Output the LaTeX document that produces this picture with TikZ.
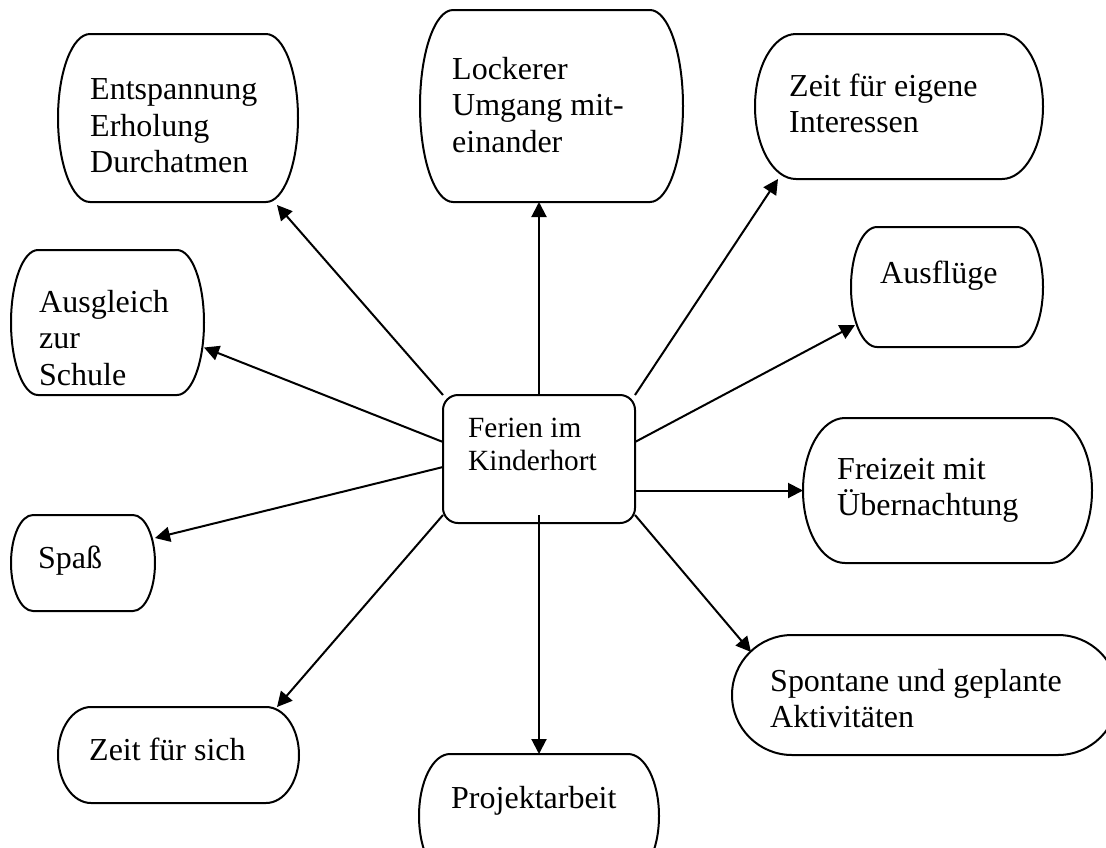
\documentclass[tikz,border=0pt]{standalone}
\usepackage{fontspec}
\setmainfont{Liberation Serif}
\usetikzlibrary{arrows.meta,calc}
\newcommand\lines[1]{\begin{tabular}[t]{@{}l@{}}#1\end{tabular}}
\newcommand\tbox[6]{%
  \pgfmathsetmacro\tbw{#4-#2}\pgfmathsetmacro\tbh{#5-#3}\pgfmathsetmacro\tbry{(#5-#3)/2}%
  \node[bx, minimum width=\tbw pt, minimum height=\tbh pt] (#1) at ({(#2+#4)/2},{(#3+#5)/2}) {};
  \draw[outline] ([xshift=#6pt]#1.north west) -- ([xshift=-#6pt]#1.north east)
     arc[start angle=90,end angle=-90,x radius=#6pt,y radius=\tbry pt]
     -- ([xshift=#6pt]#1.south west)
     arc[start angle=270,end angle=90,x radius=#6pt,y radius=\tbry pt] -- cycle;
}
\begin{document}
\begin{tikzpicture}[x=1pt,y=-1pt,
  bx/.style={rectangle, draw=none, inner sep=0pt, outer sep=0pt},
  outline/.style={line width=2pt, line join=round},
  txt/.style={anchor=base west, inner sep=0pt, font=\fontsize{32}{36.8}\selectfont},
  ctxt/.style={anchor=base west, inner sep=0pt, font=\fontsize{29.3}{33}\selectfont},
  arr/.style={line width=2pt, -{Triangle[length=15pt,width=15pt]}}]
\useasboundingbox (0,0) rectangle (1106,847);
\clip (0,0) rectangle (1106,847);
% center
\node[draw, line width=2pt, rounded corners=15pt, minimum width=192pt, minimum height=128pt, inner sep=0pt, outer sep=0pt] (c) at (539,459) {};
\node[ctxt] (c-t) at (468,437) {\lines{Ferien im\\Kinderhort}};
% outer boxes
\tbox{ent}{58}{34}{298}{202}{32}
\tbox{lock}{420}{10}{683}{202}{33}
\tbox{zeig}{755}{34}{1043}{179}{41}
\tbox{ausfl}{851}{227}{1043}{347}{26}
\tbox{ausg}{11}{250}{204}{395}{27}
\tbox{frei}{803}{418}{1092}{563}{42}
\tbox{spass}{11}{515}{155}{611}{22}
\tbox{spont}{732}{635}{1118}{755}{60}
\tbox{zsich}{58}{707}{299}{803}{33}
\tbox{proj}{419}{754}{659}{878}{31}
% texts
\node[txt] (ent-t) at (90,99.3) {\lines{Entspannung\\Erholung\\Durchatmen}};
\node[txt] (lock-t) at (452,79) {\lines{Lockerer\\Umgang mit-\\einander}};
\node[txt] (zeig-t) at (789,96) {\lines{Zeit für eigene\\Interessen}};
\node[txt] (ausfl-t) at (880,283) {Ausflüge};
\node[txt] (ausg-t) at (39,312) {\lines{Ausgleich\\zur\\Schule}};
\node[txt] (frei-t) at (837,479) {\lines{Freizeit mit\\Übernachtung}};
\node[txt] (spass-t) at (38,568) {Spaß};
\node[txt] (spont-t) at (770,691) {\lines{Spontane und geplante\\Aktivitäten}};
\node[txt] (zsich-t) at (89,760) {Zeit für sich};
\node[txt] (proj-t) at (451,808) {Projektarbeit};
% arrows
\draw[arr] (c.north west) -- ([xshift=-21pt,yshift=-3pt]ent.south east);
\draw[arr] (c.north) -- (c.north |- lock.south);
\draw[arr] (c.north east) -- ([xshift=23pt]zeig.south west);
\draw[arr] ([yshift=17pt]c.east) -- ([xshift=4pt,yshift=-38pt]ausfl.west);
\draw[arr] (c.east |- frei.west) -- (frei.west);
\draw[arr] ([yshift=8pt]c.south east) -- ([xshift=19pt,yshift=-17pt]spont.north west);
\draw[arr] ([yshift=8pt]c.south) -- (proj.north);
\draw[arr] ([yshift=8pt]c.south west) -- ([xshift=-22pt]zsich.north east);
\draw[arr] ([yshift=-8pt]c.west) -- ([yshift=25pt]spass.east);
\draw[arr] ([yshift=17pt]c.west) -- ([yshift=-25pt]ausg.east);
\end{tikzpicture}
\end{document}
